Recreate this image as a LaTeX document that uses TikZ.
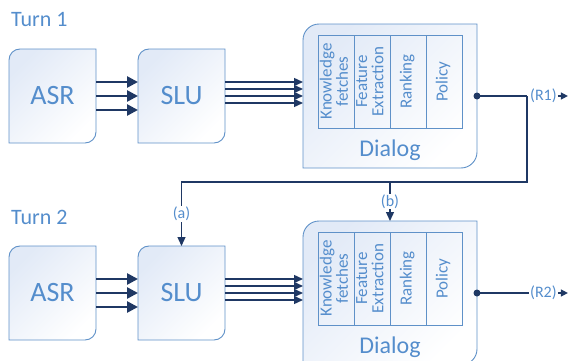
\documentclass[tikz,border=0pt]{standalone}
\usepackage{fontspec}
\setmainfont{Carlito}
\usepackage{graphicx}
\usetikzlibrary{arrows.meta, positioning, backgrounds}

\definecolor{navy}{RGB}{31,56,100}
\definecolor{boxblue}{RGB}{95,145,200}
\definecolor{txtblue}{RGB}{84,141,204}
\definecolor{boxtint}{RGB}{226,234,247}

% box with two rounded corners (top left, bottom right)
\newcommand\leafbox[2]{%
  \shadedraw[boxline] ([yshift=-#2]#1.north west)
    arc[start angle=180, end angle=90, radius=#2] -- (#1.north east)
    -- ([yshift=#2]#1.south east)
    arc[start angle=0, end angle=-90, radius=#2] -- (#1.south west) -- cycle;}
\newcommand\coltext[1]{\rotatebox{90}{\begin{tabular}{@{}c@{}}#1\end{tabular}}}

\begin{document}
\begin{tikzpicture}[x=1pt, y=1pt,
   block/.style = {minimum width=87pt, minimum height=94pt, outer sep=0pt,
                   text=txtblue, font=\fontsize{28}{30}\selectfont},
  dialog/.style = {minimum width=174pt, minimum height=144pt, outer sep=0pt},
     col/.style = {draw=boxblue, line width=0.9pt, minimum width=36pt, minimum height=93pt,
                   inner sep=0pt, outer sep=0pt, text=txtblue,
                   font=\fontsize{17}{15}\selectfont},
    turn/.style = {anchor=west, inner sep=0pt, text=txtblue,
                   font=\fontsize{22}{24}\selectfont},
 dlgtext/.style = {inner sep=0pt, text=txtblue, font=\fontsize{24}{26}\selectfont},
     lbl/.style = {inner sep=1pt, text=txtblue, font=\fontsize{16}{18}\selectfont},
 boxline/.style = {draw=boxblue, line width=0.9pt, top color=boxtint,
                   bottom color=white, shading angle=45},
     fat/.style = {navy, line width=2.6pt, -{Triangle[length=11pt, width=11pt]}},
    thin/.style = {navy, line width=1.4pt, -{Triangle[length=9pt, width=8pt]}},
    link/.style = {navy, line width=1.3pt},
   ]
\useasboundingbox (0,0) rectangle (571,360);

% turn 1
\node (turn1) [turn] at (11,340) {Turn 1};
\node (asr1)  [block] at (52.5,264) {ASR};
\node (slu1)  [block, right=42pt of asr1] {SLU};
\node (dlg1)  [dialog, right=78pt of slu1] {};
\node (kf1)   [col, below right=11pt and 15pt of dlg1.north west] {\coltext{Knowledge\\fetches}};
\node (fe1)   [col, right=0pt of kf1] {\coltext{Feature\\Extraction}};
\node (rk1)   [col, right=0pt of fe1] {\coltext{Ranking}};
\node (po1)   [col, right=0pt of rk1] {\coltext{Policy}};
\node (dl1)   [dlgtext] at ([yshift=18pt]dlg1.south) {Dialog};

% turn 2
\node (turn2) [turn] at (11,143) {Turn 2};
\node (asr2)  [block, below=103pt of asr1] {ASR};
\node (slu2)  [block, right=42pt of asr2] {SLU};
\node (dlg2)  [dialog, right=78pt of slu2] {};
\node (kf2)   [col, below right=11pt and 15pt of dlg2.north west] {\coltext{Knowledge\\fetches}};
\node (fe2)   [col, right=0pt of kf2] {\coltext{Feature\\Extraction}};
\node (rk2)   [col, right=0pt of fe2] {\coltext{Ranking}};
\node (po2)   [col, right=0pt of rk2] {\coltext{Policy}};
\node (dl2)   [dlgtext] at ([yshift=18pt]dlg2.south) {Dialog};

\begin{scope}[on background layer]
\leafbox{asr1}{11pt}
\leafbox{slu1}{11pt}
\leafbox{dlg1}{16pt}
\leafbox{asr2}{11pt}
\leafbox{slu2}{11pt}
\leafbox{dlg2}{16pt}
\end{scope}

% ASR -> SLU
\draw[fat] ([yshift=14pt]asr1.east) -- ([yshift=14pt]slu1.west);
\draw[fat] (asr1) -- (slu1);
\draw[fat] ([yshift=-14pt]asr1.east) -- ([yshift=-14pt]slu1.west);
\draw[fat] ([yshift=14pt]asr2.east) -- ([yshift=14pt]slu2.west);
\draw[fat] (asr2) -- (slu2);
\draw[fat] ([yshift=-14pt]asr2.east) -- ([yshift=-14pt]slu2.west);

% SLU -> Dialog
\draw[thin] ([yshift=14pt]slu1.east) -- ([yshift=14pt]dlg1.west);
\draw[thin] ([yshift=7pt]slu1.east) -- ([yshift=7pt]dlg1.west);
\draw[thin] (slu1) -- (dlg1);
\draw[thin] ([yshift=-7pt]slu1.east) -- ([yshift=-7pt]dlg1.west);
\draw[thin] ([yshift=14pt]slu2.east) -- ([yshift=14pt]dlg2.west);
\draw[thin] ([yshift=7pt]slu2.east) -- ([yshift=7pt]dlg2.west);
\draw[thin] (slu2) -- (dlg2);
\draw[thin] ([yshift=-7pt]slu2.east) -- ([yshift=-7pt]dlg2.west);

% outputs
\coordinate (j1) at ([xshift=50pt]dlg1.east);
\node (r1) [lbl, right=2pt of j1] {(R1)};
\coordinate (out1) at ([xshift=10pt]r1.east);
\node (r2) [lbl, right=52pt of dlg2.east] {(R2)};
\coordinate (out2) at ([xshift=10pt]r2.east);
\fill[navy] (dlg1.east) circle (3.5pt);
\fill[navy] (dlg2.east) circle (3.5pt);
\draw[link] (dlg1.east) -- (j1);
\draw[link, -{Triangle[length=7pt, width=7pt]}] (r1) -- (out1);
\draw[link] (dlg2.east) -- (r2);
\draw[link, -{Triangle[length=7pt, width=7pt]}] (r2) -- (out2);

% feedback to turn 2
\coordinate (fb) at ([yshift=-86pt]j1);
\coordinate (fbb) at (fb -| dlg2.north);
\draw[link, -{Triangle[length=9pt, width=8pt]}] (j1) -- (fb)
  -| node[lbl, pos=0.75, fill=white] {(a)} (slu2.north);
\draw[link, -{Triangle[length=9pt, width=8pt]}] (fbb)
  -- node[lbl, fill=white] {(b)} (dlg2.north);
\end{tikzpicture}
\end{document}
